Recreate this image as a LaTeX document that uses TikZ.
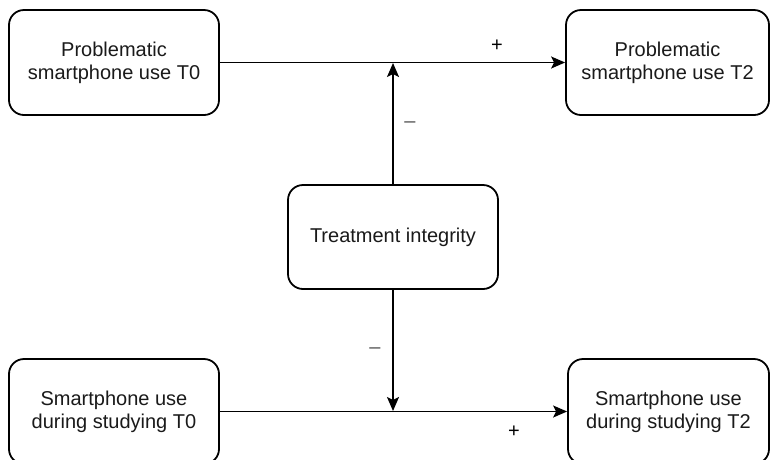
\documentclass[tikz,border=0pt]{standalone}
\usepackage{fontspec}
\setmainfont{Liberation Sans}
\usetikzlibrary{arrows.meta}
\definecolor{txt}{HTML}{1A1A1A}
\definecolor{sign}{HTML}{555555}
\tikzset{
  box/.style={draw=black, line width=1.8pt, rounded corners=15pt, fill=white,
    align=center, text=txt, font=\fontsize{20}{23}\selectfont, inner sep=0pt},
  conn/.style={line width=1.8pt, draw=black, -{Stealth[length=14pt,width=12pt,inset=3pt]}},
  lbl/.style={font=\fontsize{20}{22}\selectfont, text=black},
  mlbl/.style={font=\fontsize{20}{22}\selectfont, text=sign}
}
\begin{document}
\begin{tikzpicture}[x=1pt,y=-1pt]
\useasboundingbox (0,0) rectangle (770,459);
\node[box, minimum width=210pt, minimum height=105pt] (tl) at (114,62.5) {Problematic\\smartphone use T0};
\node[box, minimum width=203pt, minimum height=105pt] (tr) at (667.5,62.5) {Problematic\\smartphone use T2};
\node[box, minimum width=210pt, minimum height=104pt] (ti) at (393,237) {Treatment integrity};
\node[box, minimum width=210pt, minimum height=105pt] (bl) at (114,411.5) {Smartphone use\\during studying T0};
\node[box, minimum width=201pt, minimum height=105pt] (br) at (668.5,411.5) {Smartphone use\\during studying T2};
\coordinate (mt) at (393,63);
\coordinate (mb) at (393,411);
\draw[conn] (tl.east) -- (tr.west);
\draw[conn] (bl.east) -- (br.west);
\draw[conn] (ti.north) -- (mt);
\draw[conn] (ti.south) -- (mb);
\node[lbl] (p1) at (497,46) {+};
\node[lbl] (p2) at (514,432) {+};
\node[mlbl] (m1) at (410,125) {–};
\node[mlbl] (m2) at (375,351) {–};
\end{tikzpicture}
\end{document}
